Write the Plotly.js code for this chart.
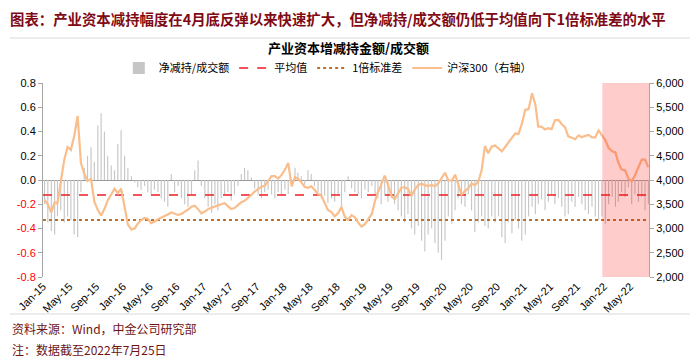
<!DOCTYPE html>
<html>
<head>
<meta charset="utf-8">
<script src="https://cdn.plot.ly/plotly-3.0.1.min.js"></script>
<style>html,body{margin:0;padding:0;background:#fff;}#chart{width:690px;height:358px;}</style>
</head>
<body>
<div id="chart"></div>
<script>
// Semi-monthly observations, Jan 2015 (first half) .. Jul 2022 (second half)
const startYear = 2015;
const periodDays = [8, 23];

// 净减持/成交额 (left axis)
const netRatio = [
 -0.20,-0.35,-0.42,-0.45,-0.30,-0.25,-0.35,-0.30,-0.33,-0.45,
 -0.47,-0.10, 0.10, 0.20, 0.27, 0.15, 0.45, 0.55, 0.40, 0.20,
  0.12, 0.08, 0.30, 0.41, 0.20, 0.10, 0.03,-0.02,-0.06,-0.08,
 -0.05,-0.10,-0.12,-0.08,-0.10,-0.15,-0.18,-0.22, 0.05,-0.10,
 -0.05,-0.15,-0.20,-0.22,-0.12, 0.08, 0.16,-0.05,-0.15,-0.22,
 -0.27,-0.20,-0.25,-0.15,-0.12,-0.10,-0.17,-0.12,-0.05, 0.05,
  0.10, 0.08, 0.02,-0.07,-0.12,-0.15,-0.10,-0.08,-0.12,-0.15,
 -0.10,-0.12,-0.08,-0.12,-0.05, 0.10, 0.06, 0.03,-0.04, 0.08,
  0.05,-0.05,-0.10,-0.15,-0.13,-0.19,-0.15,-0.18,-0.12,-0.22,
 -0.10, 0.03,-0.07,-0.10,-0.12,-0.15,-0.08,-0.10,-0.05,-0.12,
 -0.15,-0.20,-0.13,-0.18,-0.15,-0.20,-0.25,-0.30,-0.35,-0.28,
 -0.40,-0.45,-0.38,-0.50,-0.59,-0.45,-0.40,-0.52,-0.60,-0.66,
 -0.50,-0.30,-0.36,-0.25,-0.15,-0.20,-0.22,-0.12,-0.25,-0.43,
 -0.35,-0.30,-0.38,-0.40,-0.30,-0.35,-0.30,-0.47,-0.52,-0.35,
 -0.44,-0.33,-0.40,-0.50,-0.45,-0.30,-0.22,-0.28,-0.20,-0.16,
 -0.25,-0.18,-0.12,-0.20,-0.15,-0.22,-0.30,-0.28,-0.18,-0.22,
 -0.14,-0.20,-0.25,-0.28,-0.22,-0.30,-0.33,-0.30,-0.36,-0.20,
 -0.14,-0.22,-0.18,-0.10,-0.14,-0.06,-0.20,-0.12,-0.18,-0.14,
 -0.25,-0.20
];

// 沪深300 (right axis)
const csi300 = [
 3590,3500,3330,3540,3520,4000,4420,4680,4620,4900,
 5320,4350,4130,3980,4020,3560,3380,3270,3400,3580,
 3700,3820,3730,3820,3450,3080,2980,3000,3100,3170,
 3220,3200,3110,3140,3190,3220,3243,3290,3330,3310,
 3280,3300,3340,3390,3450,3470,3400,3313,3350,3400,
 3430,3460,3480,3500,3520,3450,3400,3420,3490,3540,
 3570,3620,3691,3760,3820,3862,3880,3970,4080,4080,
 4030,4100,4210,4350,3870,4060,4030,3960,3860,3840,
 3870,3800,3710,3680,3510,3380,3340,3250,3320,3440,
 3240,3180,3275,3230,3120,3040,3090,3190,3300,3570,
 3750,3900,4090,3900,3680,3600,3720,3840,3850,3820,
 3670,3800,3900,3925,3890,3880,3895,3870,3930,4050,
 4150,3990,3990,4110,3900,3700,3770,3830,3930,3890,
 3970,4200,4700,4550,4690,4710,4650,4590,4680,4770,
 4860,4960,4950,5150,5450,5460,5787,5550,5100,5100,
 5040,5070,5050,5230,5240,5150,5090,4900,4870,4840,
 4920,4880,4910,4930,4880,4880,5020,4910,4820,4660,
 4590,4570,4360,4215,4200,4030,3970,4100,4260,4420,
 4420,4260
];

const meanValue = -0.124;   // 平均值
const stdLower = -0.33;     // 均值向下1倍标准差

const leftTicks = [-0.8,-0.6,-0.4,-0.2,0.0,0.2,0.4,0.6,0.8];
const leftTickText = ['-0.8','-0.6','-0.4','-0.2','0.0','0.2','0.4','0.6','0.8'];
const xStart = '2015-01-01', xEnd = '2022-07-26';
const highlightStart = '2021-12-25';

function pad(n){return (n<10?'0':'')+n;}
const dates = netRatio.map((_, i) => {
  const mIdx = Math.floor(i/2);
  const y = startYear + Math.floor(mIdx/12);
  const m = mIdx % 12 + 1;
  return y + '-' + pad(m) + '-' + pad(periodDays[i%2]);
});

const tickText = leftTicks.map((v,i) => v < 0 ? '<span style="color:#FF0000">' + leftTickText[i] + '</span>' : leftTickText[i]);

const cjk = '"Noto Sans CJK SC", "Liberation Sans", sans-serif';
const latin = '"Liberation Sans", Arial, sans-serif';

const traces = [
  {type:'bar', name:'净减持/成交额', x:dates, y:netRatio, marker:{color:'#c6c6c6', line:{width:0}}, yaxis:'y'},
  {type:'scatter', mode:'lines', name:'平均值', x:[xStart,xEnd], y:[meanValue,meanValue], line:{color:'#EE1C25', dash:'dash', width:1.6}, yaxis:'y'},
  {type:'scatter', mode:'lines', name:'1倍标准差', x:[xStart,xEnd], y:[stdLower,stdLower], line:{color:'#C0702A', dash:'dot', width:2}, yaxis:'y'},
  {type:'scatter', mode:'lines', name:'沪深300（右轴）', x:dates, y:csi300, line:{color:'#F9BE8C', width:2.2}, yaxis:'y2'}
];

const layout = {
  width:690, height:358,
  margin:{l:43, r:41, t:83, b:81},
  paper_bgcolor:'#fff', plot_bgcolor:'#fff',
  showlegend:true,
  bargap:0.6,
  font:{family:latin, size:11, color:'#000'},
  title:{text:'<b>产业资本增减持金额/成交额</b>', font:{family:cjk, size:13, color:'#000'}, x:0.505, xref:'container', xanchor:'center', y:1-48/358, yref:'container', yanchor:'middle'},
  legend:{orientation:'h', x:0.47, xanchor:'center', y:(277-68)/194, yanchor:'middle', font:{family:cjk, size:11, color:'#000'}, bgcolor:'rgba(0,0,0,0)', traceorder:'normal'},
  xaxis:{type:'date', range:[xStart,xEnd], tick0:'2015-01-01', dtick:'M4', tickformat:'%b-%y', tickangle:-45, showgrid:false, showline:false, zeroline:false, ticks:'', tickfont:{family:latin, size:11, color:'#000'}},
  yaxis:{range:[-0.8,0.8], tickmode:'array', tickvals:leftTicks, ticktext:tickText, showgrid:false, zeroline:true, zerolinecolor:'#9a9a9a', zerolinewidth:1, showline:true, linecolor:'#a6a6a6', linewidth:1, ticks:'outside', ticklen:4, tickcolor:'#a6a6a6', tickfont:{family:latin, size:11, color:'#000'}, fixedrange:true},
  yaxis2:{range:[2000,6000], dtick:500, tick0:2000, tickformat:',d', overlaying:'y', side:'right', showgrid:false, zeroline:false, showline:true, linecolor:'#a6a6a6', linewidth:1, ticks:'outside', ticklen:4, tickcolor:'#a6a6a6', tickfont:{family:latin, size:11, color:'#000'}},
  shapes:[
    {type:'rect', xref:'x', yref:'paper', x0:highlightStart, x1:xEnd, y0:0, y1:1, fillcolor:'rgba(255,0,0,0.2)', line:{width:0}, layer:'above'},
    {type:'line', xref:'paper', yref:'paper', x0:(10-43)/606, x1:(690-43)/606, y0:(277-38)/194, y1:(277-38)/194, line:{color:'#d9d9d9', width:1}},
    {type:'line', xref:'paper', yref:'paper', x0:(10-43)/606, x1:(690-43)/606, y0:(277-314)/194, y1:(277-314)/194, line:{color:'#d9d9d9', width:1}}
  ],
  annotations:[
    {text:'<b>图表：产业资本减持幅度在4月底反弹以来快速扩大，但净减持/成交额仍低于均值向下1倍标准差的水平</b>', xref:'paper', yref:'paper', x:(8-43)/606, y:(277-18)/194, xanchor:'left', yanchor:'middle', showarrow:false, font:{family:cjk, size:14.4, color:'#7F0A14'}},
    {text:'资料来源：Wind，中金公司研究部', xref:'paper', yref:'paper', x:(10-43)/606, y:(277-328)/194, xanchor:'left', yanchor:'middle', showarrow:false, font:{family:cjk, size:12, color:'#6E1414'}},
    {text:'注：数据截至2022年7月25日', xref:'paper', yref:'paper', x:(10-43)/606, y:(277-349)/194, xanchor:'left', yanchor:'middle', showarrow:false, font:{family:cjk, size:12, color:'#6E1414'}}
  ]
};

Plotly.newPlot('chart', traces, layout, {displayModeBar:false, staticPlot:true});
</script>
</body>
</html>
